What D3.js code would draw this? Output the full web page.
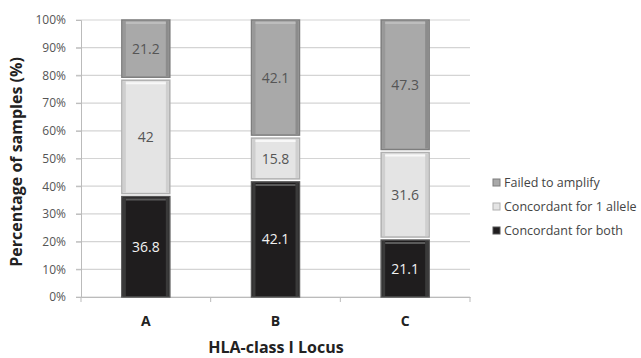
<!DOCTYPE html>
<html><head><meta charset="utf-8">
<script src="https://cdn.jsdelivr.net/npm/d3@7"></script>
<style>body{margin:0;background:#fff;} text{font-family:"Open Sans",Lato,sans-serif;}</style>
</head><body><svg id="c" width="641" height="358"></svg>
<script>
const categories = ["A","B","C"];
const seriesNames = ["Concordant for both","Concordant for 1 allele","Failed to amplify"];
const both = [36.8, 42.1, 21.1];
const oneAllele = [42, 15.8, 31.6];
const failed = [21.2, 42.1, 47.3];
const yTicks = [0,10,20,30,40,50,60,70,80,90,100];

const fills = ["#1f1d1e","#e4e4e4","#a9a9a9"];
const strokes = ["#555","#b0b0b0","#7d7d7d"];
const labelColors = ["#f2f2f2","#555","#555"];
const FONT = "'Open Sans',Lato,sans-serif";

const svg = d3.select("#c");
const m = {l:81, r:470, t:20, b:297};
const x = d3.scaleBand().domain(categories).range([m.l, m.r]).paddingInner(0.63).paddingOuter(0.315);
const y = d3.scaleLinear().domain([0,100]).range([m.b, m.t]);

// gridlines
svg.append("g").selectAll("line").data(yTicks).join("line")
  .attr("x1", m.l-5).attr("x2", m.r).attr("y1", d=>y(d)).attr("y2", d=>y(d))
  .attr("stroke","#d4d4d4").attr("stroke-width",1.2);

// y axis
const ya = svg.append("g").attr("transform",`translate(${m.l},0)`)
  .call(d3.axisLeft(y).tickValues(yTicks).tickFormat(d=>d+"%").tickSize(5).tickPadding(10));
ya.select(".domain").attr("stroke","#bbb");
ya.selectAll(".tick line").attr("stroke","#bbb");
ya.selectAll("text").attr("fill","#555").style("font-size","12px").style("font-family",FONT);

// x axis
const xa = svg.append("g").attr("transform",`translate(0,${m.b})`)
  .call(d3.axisBottom(x).tickSize(0).tickPadding(19));
xa.select(".domain").attr("stroke","#bbb");
xa.selectAll("text").attr("fill","#222").style("font-size","14px").style("font-weight","bold").style("font-family",FONT);
const bounds = [m.l].concat(categories.map(c=>x(c)+x.bandwidth()+x.step()*x.paddingInner()/2));
xa.selectAll(".bt").data(bounds).join("line").attr("class","bt")
  .attr("x1",d=>d).attr("x2",d=>d).attr("y1",0).attr("y2",5).attr("stroke","#bbb");

// stacked bars
const series = [both, oneAllele, failed];
const rows = categories.map((c,i)=>({cat:c, s0:both[i], s1:oneAllele[i], s2:failed[i]}));
const stack = d3.stack().keys(["s0","s1","s2"])(rows);
stack.forEach((layer, k) => {
  const g = svg.append("g");
  layer.forEach((d, i) => {
    const x0 = x(d.data.cat), w = x.bandwidth();
    const yt = y(d[1]) + (k<2 ? 1.5 : 0), yb = y(d[0]) - (k>0 ? 1.5 : 0);
    g.append("rect").attr("x",x0).attr("y",yt).attr("width",w).attr("height",Math.max(0,yb-yt))
      .attr("fill",fills[k]).attr("stroke",strokes[k]).attr("stroke-width",1.5);
    g.append("rect").attr("x",x0+1).attr("y",yt+1).attr("width",3).attr("height",Math.max(0,yb-yt-2))
      .attr("fill",k===0?"#3a3a3a":(k===1?"#cfcfcf":"#989898"));
    g.append("rect").attr("x",x0+w-4).attr("y",yt+1).attr("width",3).attr("height",Math.max(0,yb-yt-2))
      .attr("fill",k===0?"#3a3a3a":(k===1?"#cfcfcf":"#8c8c8c"));
    g.append("line").attr("x1",x0+4).attr("x2",x0+w-4).attr("y1",yt+3).attr("y2",yt+3)
      .attr("stroke",k===0?"#5a5a5a":(k===1?"#f8f8f8":"#bdbdbd")).attr("stroke-width",2);
    g.append("text").attr("x",x0+w/2).attr("y",(yt+yb)/2).attr("dy","0.36em")
      .attr("text-anchor","middle").attr("fill",labelColors[k]).style("font-size","14px")
      .text(series[k][i]);
  });
});

// axis titles
svg.append("text").attr("transform","translate(22,162) rotate(-90)").attr("text-anchor","middle")
  .attr("fill","#222").style("font-size","16px").style("font-weight","bold").text("Percentage of samples (%)");
svg.append("text").attr("x",276).attr("y",353).attr("text-anchor","middle")
  .attr("fill","#222").style("font-size","16px").style("font-weight","bold").text("HLA-class I Locus");

// legend
const legendOrder = [2,1,0];
const lg = svg.append("g");
legendOrder.forEach((k,i)=>{
  const ly = 183 + i*24;
  lg.append("rect").attr("x",493).attr("y",ly-4).attr("width",7).attr("height",7)
    .attr("fill",fills[k]).attr("stroke",strokes[k]);
  lg.append("text").attr("x",504).attr("y",ly).attr("dy","0.35em").attr("fill","#444")
    .style("font-size","12.5px").text(seriesNames[k]);
});
</script></body></html>
